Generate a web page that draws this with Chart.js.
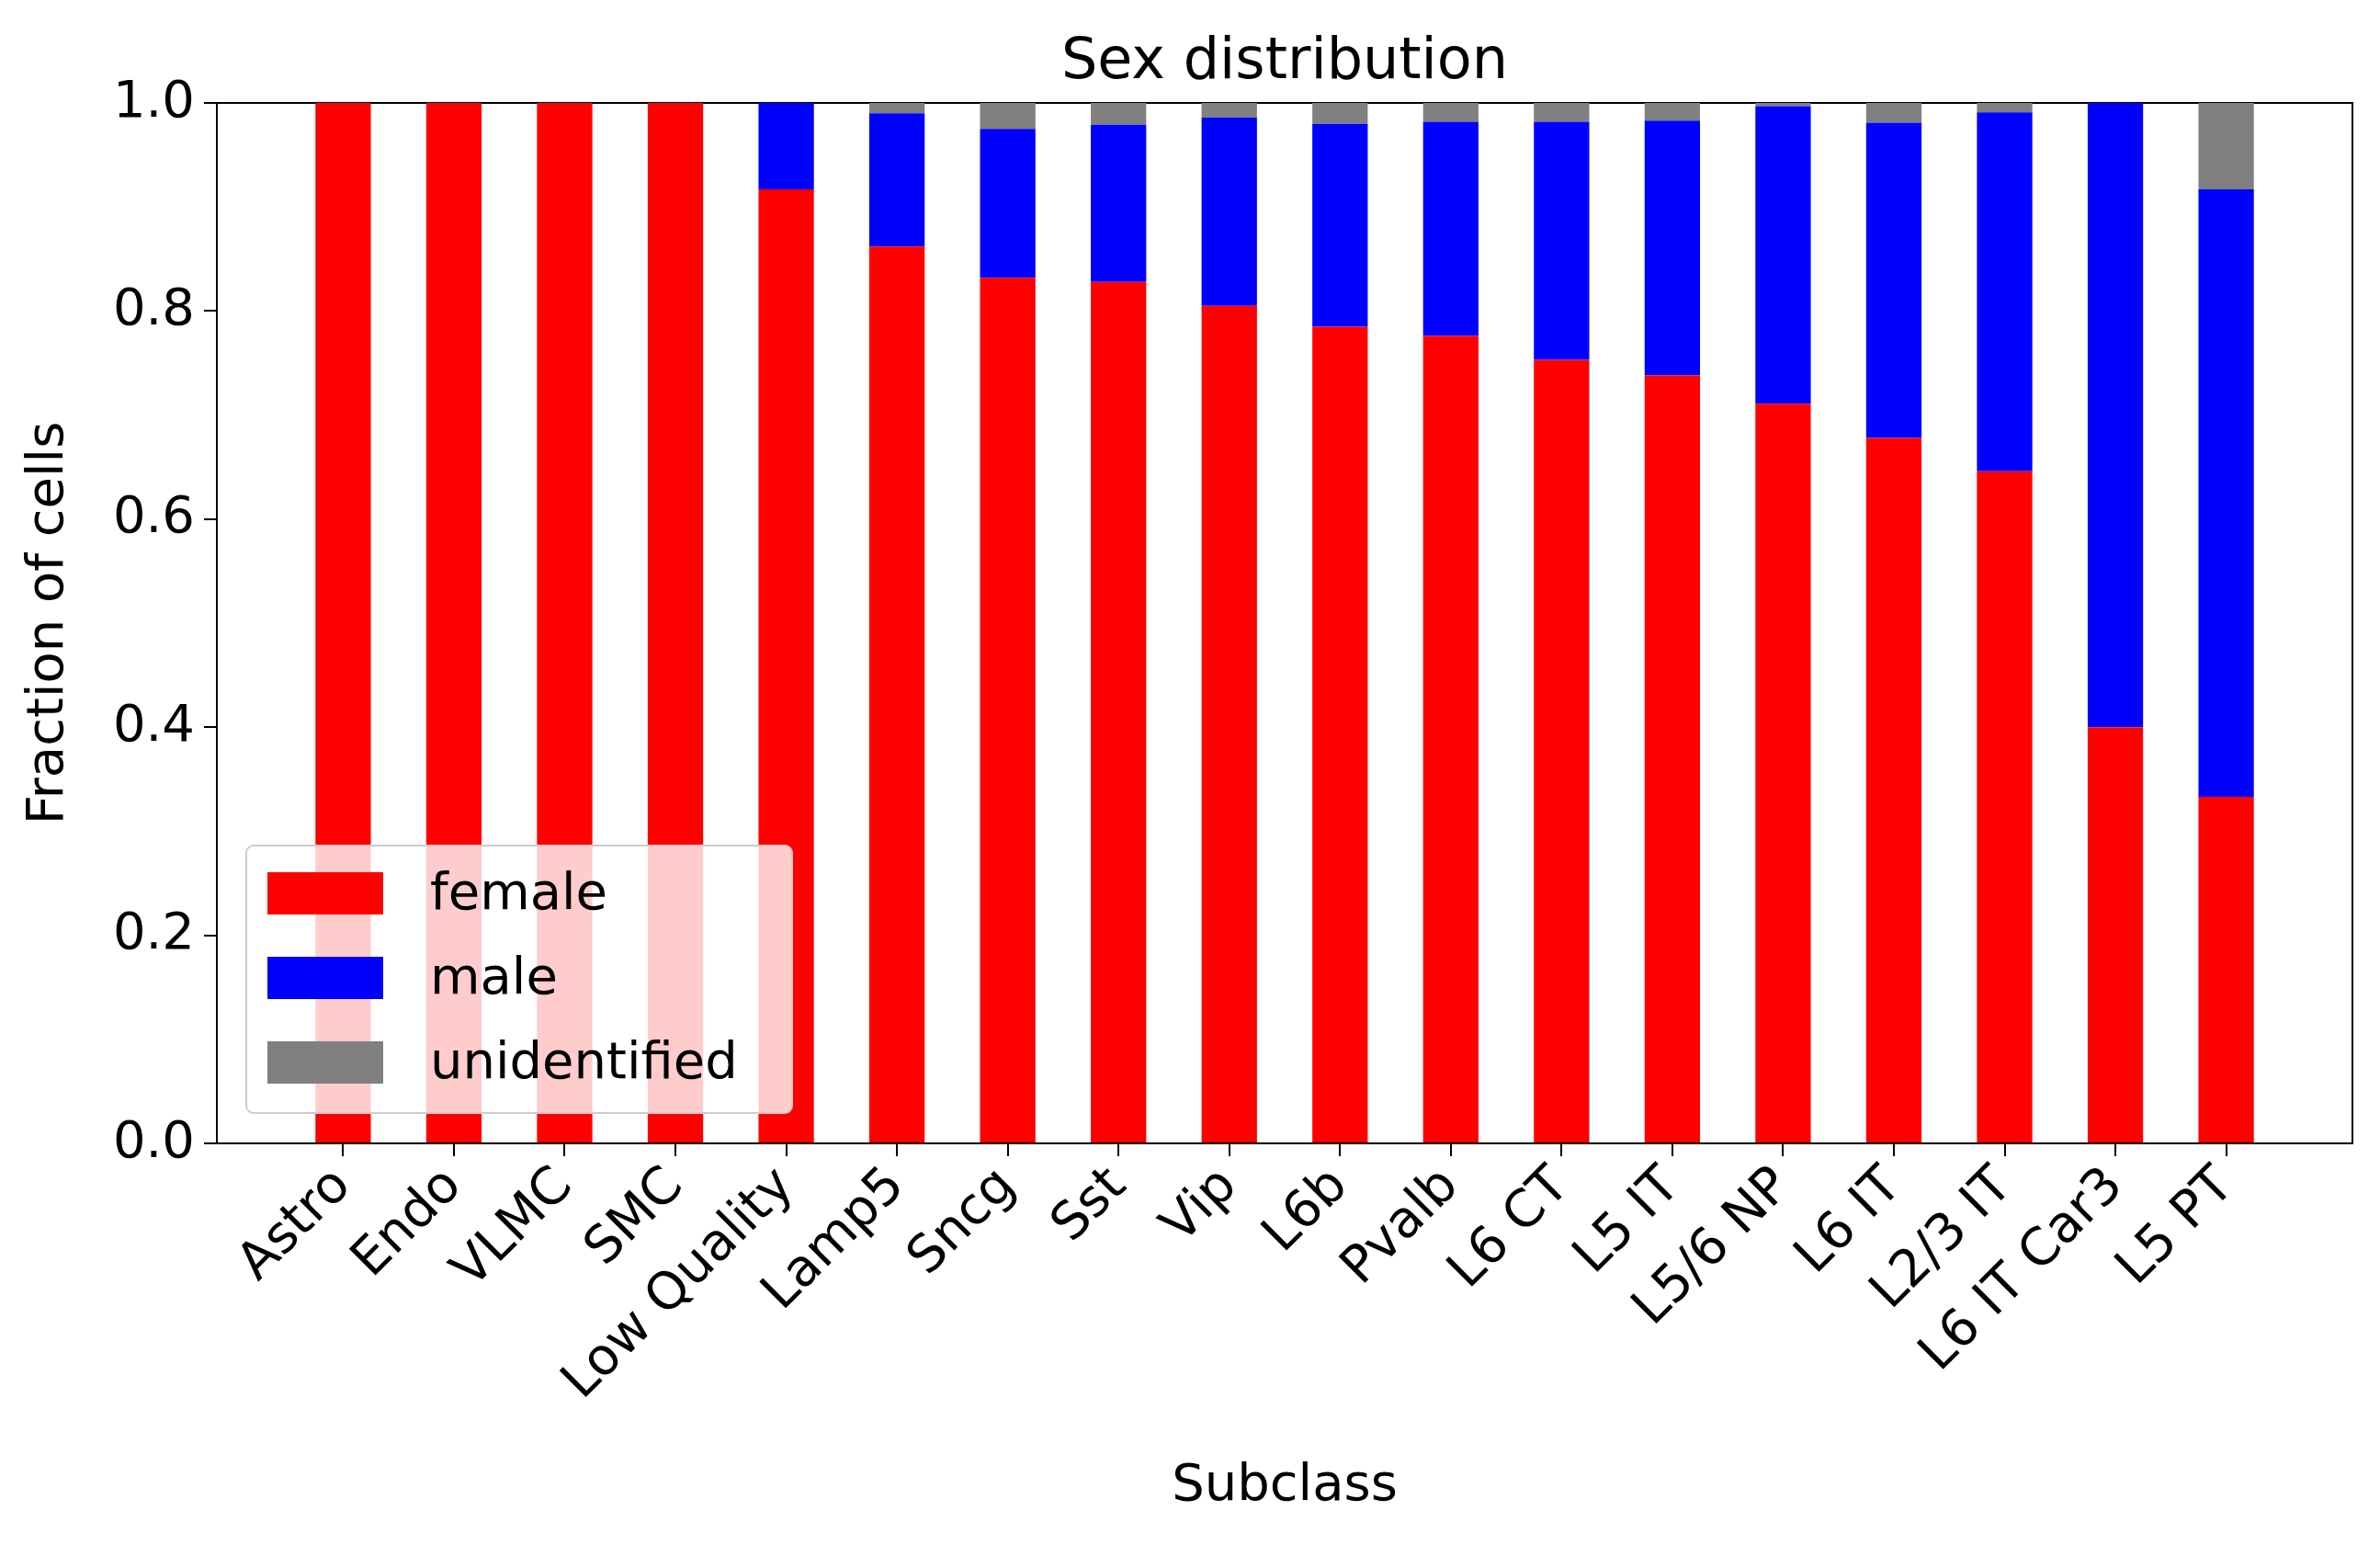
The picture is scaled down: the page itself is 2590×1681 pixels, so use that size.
<!DOCTYPE html>
<html>
<head>
<meta charset="utf-8">
<script src="https://cdn.jsdelivr.net/npm/chart.js@4/dist/chart.umd.min.js"></script>
<style>
  body { margin: 0; background: #fff; }
  #wrap { width: 2590px; height: 1681px; }
</style>
</head>
<body>
<div id="wrap"><canvas id="c"></canvas></div>
<script>
const subclasses = ['Astro', 'Endo', 'VLMC', 'SMC', 'Low Quality', 'Lamp5', 'Sncg', 'Sst', 'Vip', 'L6b',
  'Pvalb', 'L6 CT', 'L5 IT', 'L5/6 NP', 'L6 IT', 'L2/3 IT', 'L6 IT Car3', 'L5 PT'];
const female = [1, 1, 1, 1, 0.917, 0.862, 0.832, 0.828, 0.805, 0.785, 0.776, 0.753, 0.738, 0.711, 0.678, 0.646, 0.400, 0.333];
const male = [0, 0, 0, 0, 0.083, 0.128, 0.143, 0.151, 0.181, 0.195, 0.206, 0.229, 0.245, 0.286, 0.303, 0.345, 0.600, 0.584];
const unidentified = [0, 0, 0, 0, 0, 0.010, 0.025, 0.021, 0.014, 0.020, 0.018, 0.018, 0.017, 0.003, 0.019, 0.009, 0, 0.083];
const yTicks = [0, 0.2, 0.4, 0.6, 0.8, 1.0];

const FONT = 'DejaVu Sans';
Chart.defaults.font.family = FONT;
Chart.defaults.color = '#000';

function pts(arr) { return arr.map((v, i) => ({x: i, y: v})); }

const series = [
  {label: 'female', data: female, color: '#ff0000'},
  {label: 'male', data: male, color: '#0000ff'},
  {label: 'unidentified', data: unidentified, color: '#808080'}
];

const overlay = {
  id: 'overlay',
  afterDraw(chart) {
    const ctx = chart.ctx, a = chart.chartArea;
    ctx.save();
    ctx.fillStyle = '#000';
    ctx.font = '62px ' + FONT;
    ctx.textAlign = 'center';
    ctx.textBaseline = 'bottom';
    ctx.fillText('Sex distribution', (a.left + a.right) / 2, a.top - 12);
    // legend
    const lx = 268, ly = 920, lw = 594, lh = 291;
    ctx.fillStyle = 'rgba(255,255,255,0.8)';
    ctx.strokeStyle = '#cccccc';
    ctx.lineWidth = 2;
    ctx.beginPath();
    ctx.roundRect(lx, ly, lw, lh, 8);
    ctx.fill(); ctx.stroke();
    ctx.font = '56px ' + FONT;
    ctx.textAlign = 'left';
    ctx.textBaseline = 'middle';
    series.forEach((s, i) => {
      const cy = ly + 52 + i * 92;
      ctx.fillStyle = s.color;
      ctx.fillRect(lx + 23, cy - 23, 126, 46);
      ctx.fillStyle = '#000';
      ctx.fillText(s.label, lx + 200, cy + 2);
    });
    ctx.restore();
  }
};

new Chart(document.getElementById('c'), {
  type: 'bar',
  data: {
    datasets: series.map(s => ({
      label: s.label,
      data: pts(s.data),
      backgroundColor: s.color,
      borderWidth: 0,
      barPercentage: 0.5,
      categoryPercentage: 1.0
    }))
  },
  options: {
    responsive: true,
    maintainAspectRatio: false,
    devicePixelRatio: 1,
    animation: false,
    layout: {padding: {top: 112, right: 30, left: 20, bottom: 30}},
    plugins: {legend: {display: false}, tooltip: {enabled: false}},
    scales: {
      x: {
        type: 'linear',
        stacked: true,
        offset: false,
        min: -1.14,
        max: 18.14,
        afterBuildTicks(ax) { ax.ticks = subclasses.map((_, i) => ({value: i})); },
        afterFit(ax) { ax.height = 1681 - 1244 - 30; },
        ticks: {
          callback: (v) => subclasses[v],
          maxRotation: 45, minRotation: 45,
          font: {size: 56},
          padding: 0,
          autoSkip: false
        },
        grid: {drawOnChartArea: false, offset: false, color: '#000', tickLength: 14, lineWidth: 2},
        border: {color: '#000', width: 2},
        title: {display: true, text: 'Subclass', font: {size: 56}, padding: {top: 10, bottom: 0}}
      },
      y: {
        stacked: true,
        min: 0,
        max: 1,
        afterBuildTicks(ax) { ax.ticks = yTicks.map(v => ({value: v})); },
        afterFit(ax) { ax.width = 216; },
        ticks: {callback: (v) => v.toFixed(1), font: {size: 56}, padding: 10},
        grid: {drawOnChartArea: false, color: '#000', tickLength: 14, lineWidth: 2},
        border: {color: '#000', width: 2},
        title: {display: true, text: 'Fraction of cells', font: {size: 56}, padding: {top: 0, bottom: 4}}
      },
      x2: {position: 'top', type: 'linear', display: true, min: 0, max: 1,
        ticks: {display: false}, grid: {display: false, drawTicks: false}, border: {color: '#000', width: 2}},
      y2: {position: 'right', type: 'linear', display: true, min: 0, max: 1,
        ticks: {display: false}, grid: {display: false, drawTicks: false}, border: {color: '#000', width: 2}}
    }
  },
  plugins: [overlay]
});
</script>
</body>
</html>
